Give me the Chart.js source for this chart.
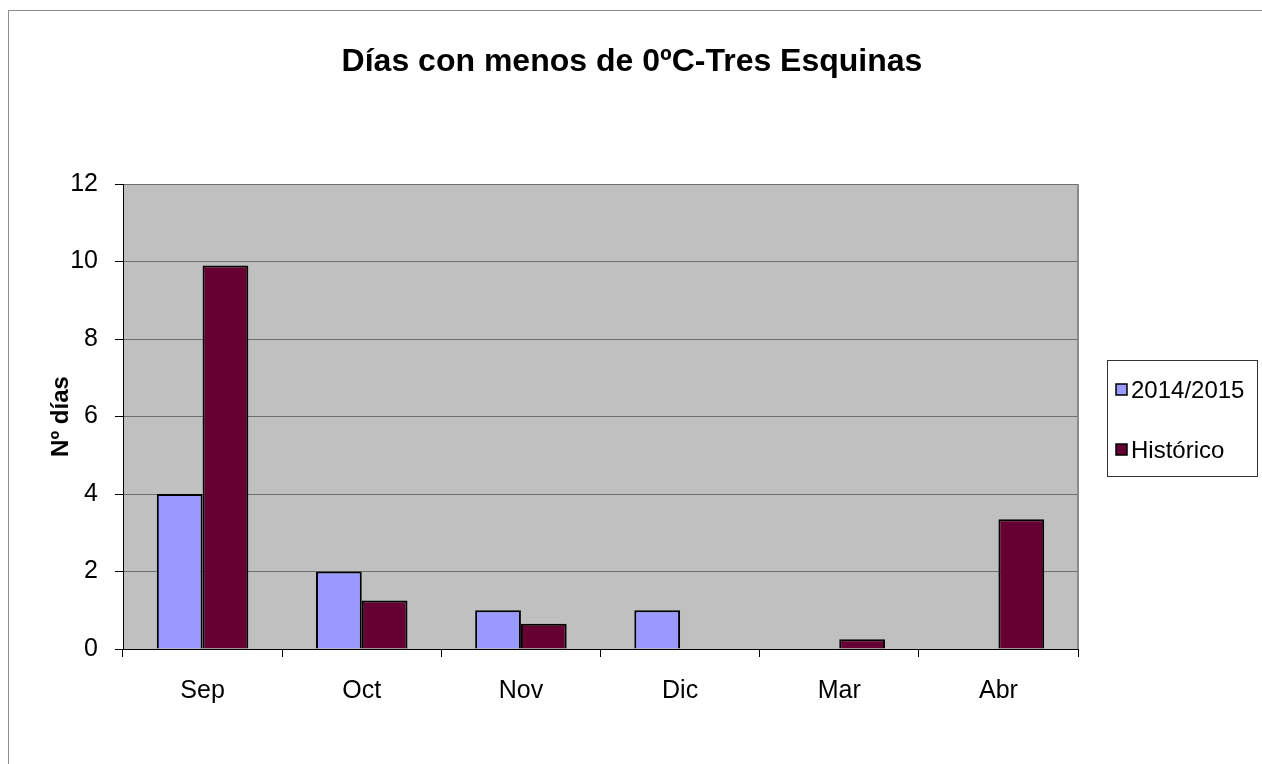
<!DOCTYPE html>
<html>
<head>
<meta charset="utf-8">
<script src="https://cdn.jsdelivr.net/npm/chart.js@4.4.1/dist/chart.umd.min.js"></script>
<style>
  html, body { margin: 0; padding: 0; background: #fff; }
  #wrap { width: 1262px; height: 764px; }
</style>
</head>
<body>
<div id="wrap"><canvas id="chart" width="1262" height="764"></canvas></div>
<script>
const months = ['Sep', 'Oct', 'Nov', 'Dic', 'Mar', 'Abr'];
const season = [4, 2, 1, 1, 0, 0];
const historico = [9.9, 1.25, 0.65, 0, 0.25, 3.35];
const yTicks = [0, 2, 4, 6, 8, 10, 12];
const chartTitle = 'Días con menos de 0ºC-Tres Esquinas';

const FONT = 'Arial, "Liberation Sans", sans-serif';

// grey plot background, outer frame, title, right border of plot and legend box
const decor = {
    id: 'decor',
    beforeDraw(chart) {
        const c = chart.ctx, a = chart.chartArea;
        c.save();
        c.fillStyle = '#fff';
        c.fillRect(0, 0, chart.width, chart.height);
        c.strokeStyle = '#8c8c8c';
        c.lineWidth = 1;
        c.strokeRect(8.5, 10.5, chart.width + 20, chart.height + 20);
        c.fillStyle = '#c0c0c0';
        c.fillRect(a.left, a.top, a.right - a.left, a.bottom - a.top);

        c.fillStyle = '#000';
        c.font = 'bold 32px ' + FONT;
        c.textAlign = 'center';
        c.textBaseline = 'middle';
        c.fillText(chartTitle, 632, 62);
        c.restore();
    },
    afterDraw(chart) {
        const c = chart.ctx, a = chart.chartArea;
        c.save();
        c.strokeStyle = '#8a8a8a';
        c.lineWidth = 2;
        c.beginPath();
        c.moveTo(a.right, a.top);
        c.lineTo(a.right, a.bottom);
        c.stroke();

        // legend
        c.strokeStyle = '#333';
        c.lineWidth = 1;
        c.strokeRect(1107.5, 360.5, 150, 116);
        c.font = '24px ' + FONT;
        c.textBaseline = 'middle';
        c.textAlign = 'left';
        chart.data.datasets.forEach((ds, i) => {
            const y = 390 + i * 60;
            c.fillStyle = ds.backgroundColor;
            c.fillRect(1116, y - 6, 11, 11);
            c.strokeStyle = '#000';
            c.lineWidth = 1.5;
            c.strokeRect(1116, y - 6, 11, 11);
            c.fillStyle = '#000';
            c.fillText(ds.label, 1131, y + 1);
        });
        c.restore();
    }
};

new Chart(document.getElementById('chart'), {
    type: 'bar',
    data: {
        labels: months,
        datasets: [
            {
                label: '2014/2015',
                data: season,
                backgroundColor: '#9999ff',
                borderColor: '#000',
                borderWidth: 2,
                borderSkipped: 'bottom'
            },
            {
                label: 'Histórico',
                data: historico,
                backgroundColor: '#660033',
                borderColor: '#000',
                borderWidth: 2,
                borderSkipped: 'bottom'
            }
        ]
    },
    options: {
        responsive: false,
        animation: false,
        layout: { padding: { left: 0, right: 184, top: 184, bottom: 0 } },
        datasets: {
            bar: { categoryPercentage: 0.575, barPercentage: 1 }
        },
        scales: {
            x: {
                afterFit: (s) => { s.height = 115; },
                grid: {
                    offset: true,
                    drawOnChartArea: false,
                    drawTicks: true,
                    tickLength: 8,
                    tickColor: '#000'
                },
                border: { color: '#000', width: 1 },
                ticks: {
                    color: '#000',
                    padding: 19,
                    font: { family: FONT, size: 25 }
                }
            },
            y: {
                min: 0,
                max: 12,
                afterFit: (s) => { s.width = 123; },
                afterBuildTicks: (s) => { s.ticks = yTicks.map(v => ({ value: v })); },
                grid: {
                    color: '#6e6e6e',
                    tickColor: '#000',
                    tickLength: 8
                },
                border: { color: '#000', width: 1 },
                ticks: {
                    color: '#000',
                    padding: 17,
                    font: { family: FONT, size: 25 }
                },
                title: {
                    display: true,
                    text: 'Nº días',
                    color: '#000',
                    padding: { top: 47, bottom: 0 },
                    font: { family: FONT, size: 24, weight: 'bold' }
                }
            }
        },
        plugins: {
            legend: { display: false },
            tooltip: { enabled: false },
            title: { display: false }
        }
    },
    plugins: [decor]
});
</script>
</body>
</html>
